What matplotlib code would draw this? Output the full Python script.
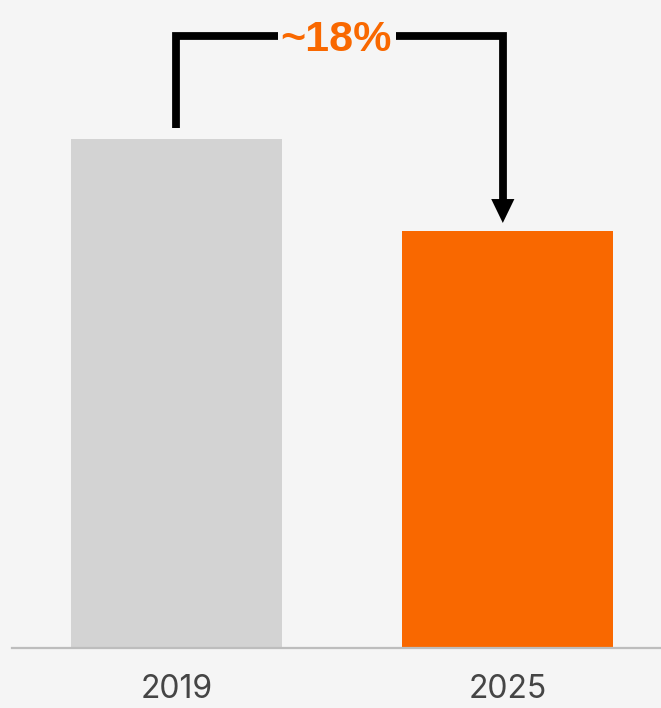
import matplotlib
matplotlib.use("Agg")
import matplotlib.pyplot as plt

# data
years = ["2019", "2025"]
values = [100, 82]
bar_colors = ["#d3d3d3", "#f96800"]
change_label = "~18%"

bg = "#f5f5f5"

fig = plt.figure(figsize=(6.61, 7.08), dpi=100, facecolor=bg)
ax = fig.add_axes([12 / 661, 60 / 708, 649 / 661, 648 / 708])
ax.set_facecolor(bg)

x = list(range(len(years)))
ax.bar(x, values, width=0.637, color=bar_colors, zorder=2)

ax.set_xlim(-0.497, 1.464)
ax.set_ylim(0, 127.3)

# baseline
for side in ["top", "right", "left"]:
    ax.spines[side].set_visible(False)
ax.spines["bottom"].set_color("#bdbdbd")
ax.spines["bottom"].set_linewidth(1.6)
ax.set_yticks([])
ax.set_xticks(x)
ax.set_xticklabels(years, fontsize=23, color="#454545", family=["Inter", "DejaVu Sans"])
ax.tick_params(axis="x", length=0, pad=19)

# bracket with arrow
top_y = 120.2
lw = 5.6
ax.plot([0, 0, 0.307], [values[0] + 2.2, top_y, top_y], color="black", lw=lw,
        solid_joinstyle="miter", solid_capstyle="butt", zorder=3)
xr = 0.986
head_h = 4.7
tip = values[1] + 1.5
ax.plot([0.663, xr, xr], [top_y, top_y, tip + head_h - 0.5], color="black", lw=lw,
        solid_joinstyle="miter", solid_capstyle="butt", zorder=3)
hw = 0.035
ax.fill([xr - hw, xr + hw, xr], [tip + head_h, tip + head_h, tip], color="black", lw=0, zorder=3)

ax.text(0.482, top_y - 0.8, change_label, ha="center", va="center", fontsize=31,
        fontweight="bold", color="#f96800", family=["Liberation Sans", "DejaVu Sans"])

fig.savefig("out.png", dpi=100, facecolor=bg)
